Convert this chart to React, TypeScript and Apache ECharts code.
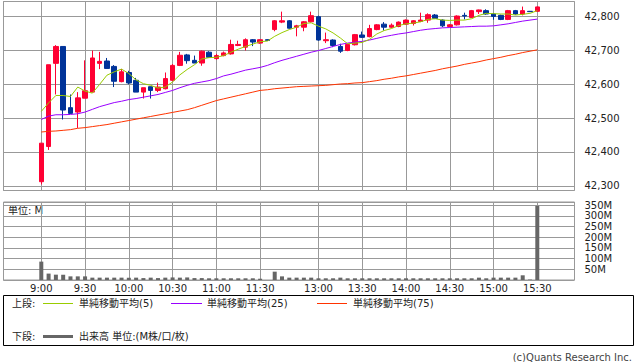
import { useEffect, useRef } from "react";
import * as echarts from "echarts";

const CATEGORIES = [
  "9:00", "9:05", "9:10", "9:15", "9:20", "9:25", "9:30", "9:35", "9:40", "9:45",
  "9:50", "9:55", "10:00", "10:05", "10:10", "10:15", "10:20", "10:25", "10:30", "10:35",
  "10:40", "10:45", "10:50", "10:55", "11:00", "11:05", "11:10", "11:15", "11:20", "11:25",
  "11:30", "12:25", "12:30", "12:35", "12:40", "12:45", "12:50", "12:55", "13:00", "13:05",
  "13:10", "13:15", "13:20", "13:25", "13:30", "13:35", "13:40", "13:45", "13:50", "13:55",
  "14:00", "14:05", "14:10", "14:15", "14:20", "14:25", "14:30", "14:35", "14:40", "14:45",
  "14:50", "14:55", "15:00", "15:05", "15:10", "15:15", "15:20", "15:25", "15:30",
];

const TICK_LABELS = ["9:00", "9:30", "10:00", "10:30", "11:00", "11:30", "13:00", "13:30", "14:00", "14:30", "15:00", "15:30"];

const OPEN = [
  42312, 42416, 42662, 42712, 42531, 42518, 42559, 42577, 42662, 42669,
  42653, 42608, 42635, 42612, 42577, 42593, 42582, 42587, 42612, 42656,
  42687, 42671, 42663, 42695, 42676, 42685, 42690, 42715, 42710, 42732,
  42722, 42732, 42762, 42784, 42788, 42769, 42769, 42785, 42800, 42729,
  42731, 42712, 42700, 42717, 42746, 42741, 42762, 42778, 42769, 42771,
  42778, 42780, 42786, 42790, 42805, 42790, 42771, 42776, 42804, 42798,
  42815, 42818, 42808, 42804, 42792, 42818, 42808, 42816, 42816,
];
const CLOSE = [
  42426, 42658, 42712, 42524, 42514, 42560, 42581, 42678, 42668, 42647,
  42609, 42637, 42604, 42577, 42590, 42582, 42592, 42617, 42656, 42686,
  42670, 42663, 42698, 42680, 42685, 42693, 42718, 42718, 42732, 42725,
  42732, 42730, 42788, 42788, 42766, 42773, 42785, 42803, 42731, 42732,
  42715, 42698, 42718, 42747, 42739, 42765, 42776, 42769, 42775, 42784,
  42790, 42788, 42790, 42806, 42795, 42773, 42776, 42802, 42802, 42818,
  42820, 42808, 42801, 42792, 42818, 42808, 42818, 42815, 42829,
];
const LOW = [
  42304, 42406, 42570, 42496, 42514, 42471, 42559, 42577, 42645, 42647,
  42592, 42606, 42600, 42577, 42558, 42558, 42577, 42585, 42609, 42654,
  42661, 42663, 42655, 42678, 42673, 42683, 42688, 42713, 42700, 42713,
  42720, 42729, 42757, 42781, 42765, 42742, 42757, 42783, 42729, 42722,
  42710, 42693, 42698, 42715, 42737, 42739, 42760, 42759, 42767, 42769,
  42776, 42774, 42784, 42782, 42793, 42769, 42769, 42774, 42792, 42796,
  42808, 42806, 42791, 42790, 42790, 42806, 42804, 42814, 42815,
];
const HIGH = [
  42426, 42658, 42716, 42712, 42570, 42577, 42671, 42700, 42696, 42678,
  42657, 42645, 42640, 42619, 42590, 42593, 42605, 42635, 42660, 42696,
  42690, 42685, 42700, 42698, 42690, 42697, 42732, 42729, 42736, 42734,
  42733, 42733, 42790, 42815, 42790, 42776, 42787, 42815, 42803, 42753,
  42733, 42720, 42720, 42749, 42756, 42776, 42778, 42784, 42780, 42786,
  42792, 42790, 42812, 42810, 42808, 42792, 42778, 42804, 42812, 42820,
  42821, 42822, 42810, 42806, 42820, 42820, 42830, 42817, 42830,
];

const MA5 = [
  42520, 42545, 42567, 42567, 42564, 42592, 42580, 42574, 42600, 42627,
  42637, 42645, 42632, 42613, 42602, 42597, 42589, 42592, 42607, 42628,
  42644, 42658, 42675, 42679, 42680, 42685, 42695, 42704, 42712, 42719,
  42726, 42728, 42742, 42753, 42762, 42769, 42780, 42782, 42772, 42764,
  42752, 42737, 42720, 42722, 42724, 42733, 42749, 42759, 42765, 42774,
  42779, 42781, 42785, 42792, 42794, 42790, 42789, 42790, 42790, 42794,
  42804, 42810, 42809, 42808, 42808, 42805, 42807, 42810, 42818,
];
const MA25 = [
  42496, 42506, 42510, 42510, 42511, 42513, 42518, 42526, 42534, 42540,
  42546, 42550, 42555, 42558, 42562, 42566, 42570, 42576, 42582, 42590,
  42597, 42603, 42607, 42611, 42617, 42625, 42630, 42636, 42642, 42646,
  42650, 42656, 42664, 42671, 42677, 42683, 42689, 42695, 42700, 42706,
  42712, 42718, 42722, 42725, 42727, 42731, 42736, 42741, 42745, 42749,
  42752, 42756, 42760, 42763, 42765, 42767, 42768, 42769, 42770, 42771,
  42772, 42772, 42773, 42776, 42779, 42783, 42787, 42790, 42793,
];
const MA75 = [
  42459, 42461, 42462, 42464, 42466, 42470, 42472, 42475, 42478, 42481,
  42485, 42489, 42493, 42497, 42501, 42505, 42509, 42513, 42517, 42521,
  42525, 42531, 42538, 42545, 42552, 42557, 42562, 42567, 42572, 42577,
  42582, 42584, 42587, 42589, 42591, 42593, 42594, 42595, 42596, 42597,
  42599, 42601, 42602, 42604, 42605, 42608, 42611, 42615, 42618, 42622,
  42625, 42629, 42633, 42637, 42641, 42646, 42650, 42654, 42659, 42663,
  42667, 42672, 42676, 42680, 42685, 42689, 42694, 42698, 42702,
];

const VOLUME = [
  86, 30, 25, 25, 17, 17, 17, 11, 11, 11,
  11, 11, 11, 11, 9, 11, 9, 11, 12, 11,
  12, 9, 9, 8, 8, 8, 8, 8, 8, 8,
  6, 0, 39, 17, 11, 11, 11, 11, 8, 8,
  8, 11, 8, 8, 8, 8, 8, 8, 8, 8,
  8, 8, 8, 8, 8, 8, 8, 8, 8, 8,
  11, 8, 11, 11, 11, 11, 22, 2, 347,
];

const FONT = '"DejaVu Sans", "Noto Sans CJK JP", sans-serif';
const GRID_COLOR = "#999999";
const UP = "#ff0033";
const DOWN = "#003399";
const C_MA5 = "#99cc00";
const C_MA25 = "#9900ff";
const C_MA75 = "#ff3300";

const isTick = (_i: number, v: string) => TICK_LABELS.includes(v);

export default function App() {
  const ref = useRef<HTMLDivElement>(null);

  useEffect(() => {
    const chart = echarts.init(ref.current!, null, { renderer: "svg" });

    const priceMin = 42286;
    const priceMax = 42845;

    const txt = (text: string, x: number, y: number, extra: any = {}) => ({
      type: "text",
      x,
      y,
      style: {
        text,
        fill: "#222",
        fontSize: 10,
        fontFamily: FONT,
        verticalAlign: "middle",
        align: "left",
        ...extra,
      },
    });
    const seg = (x1: number, x2: number, y: number, stroke: string, w = 1) => ({
      type: "line",
      shape: { x1, y1: y, x2, y2: y },
      style: { stroke, lineWidth: w },
    });

    const option: any = {
      animation: false,
      backgroundColor: "#ffffff",
      grid: [
        { left: 3.5, top: 1.5, width: 571, height: 189, show: true, borderColor: GRID_COLOR, borderWidth: 1, backgroundColor: "transparent" },
        { left: 41.3, top: 1.5, width: 496, height: 189 },
        { left: 3.5, top: 202, width: 571, height: 78, show: true, borderColor: GRID_COLOR, borderWidth: 1, backgroundColor: "transparent" },
        { left: 41.3, top: 202, width: 496, height: 78 },
      ],
      xAxis: [
        { type: "value", gridIndex: 0, min: 0, max: 1, show: false },
        {
          type: "category",
          gridIndex: 1,
          data: CATEGORIES,
          boundaryGap: false,
          axisLine: { show: false },
          axisTick: { show: false },
          axisLabel: { show: false },
          splitLine: { show: true, interval: isTick, lineStyle: { color: GRID_COLOR, width: 1 } },
        },
        { type: "value", gridIndex: 2, min: 0, max: 1, show: false },
        {
          type: "category",
          gridIndex: 3,
          data: CATEGORIES,
          boundaryGap: false,
          axisLine: { show: false },
          axisTick: { show: false },
          axisLabel: {
            show: true,
            interval: isTick,
            fontSize: 10,
            fontFamily: FONT,
            color: "#222",
            margin: 3,
          },
          splitLine: { show: true, interval: isTick, lineStyle: { color: GRID_COLOR, width: 1 } },
        },
      ],
      yAxis: [
        {
          type: "value",
          gridIndex: 0,
          position: "right",
          min: priceMin,
          max: priceMax,
          splitNumber: 5,
          axisLine: { show: false },
          axisTick: { show: true, length: 6, lineStyle: { color: GRID_COLOR } },
          splitLine: { show: true, lineStyle: { color: GRID_COLOR, width: 1 } },
          axisLabel: {
            fontSize: 10,
            fontFamily: FONT,
            color: "#222",
            margin: 10,
            showMinLabel: true,
            showMaxLabel: true,
            formatter: (v: number) => (v % 100 === 0 ? v.toLocaleString("en-US") : ""),
          },
        },
        { type: "value", gridIndex: 1, min: priceMin, max: priceMax, show: false, splitLine: { show: false } },
        {
          type: "value",
          gridIndex: 2,
          position: "right",
          min: 0,
          max: 365,
          splitNumber: 7,
          axisLine: { show: false },
          axisTick: { show: true, length: 6, lineStyle: { color: GRID_COLOR } },
          splitLine: { show: true, lineStyle: { color: GRID_COLOR, width: 1 } },
          axisLabel: {
            fontSize: 10,
            fontFamily: FONT,
            color: "#222",
            margin: 10,
            formatter: (v: number) => (v > 0 && v % 50 === 0 ? `${v}M` : ""),
          },
        },
        { type: "value", gridIndex: 3, min: 0, max: 365, show: false, splitLine: { show: false } },
      ],
      series: [
        {
          type: "candlestick",
          xAxisIndex: 1,
          yAxisIndex: 1,
          clip: false,
          barWidth: 5,
          data: OPEN.map((o, i) => [o, CLOSE[i], LOW[i], HIGH[i]]),
          itemStyle: { color: UP, color0: DOWN, borderColor: UP, borderColor0: DOWN, borderWidth: 1 },
        },
        {
          type: "line",
          xAxisIndex: 1,
          yAxisIndex: 1,
          data: MA75,
          symbol: "none",
          lineStyle: { color: C_MA75, width: 1 },
        },
        {
          type: "line",
          xAxisIndex: 1,
          yAxisIndex: 1,
          data: MA25,
          symbol: "none",
          lineStyle: { color: C_MA25, width: 1 },
        },
        {
          type: "line",
          xAxisIndex: 1,
          yAxisIndex: 1,
          data: MA5,
          symbol: "none",
          lineStyle: { color: C_MA5, width: 1 },
        },
        {
          type: "bar",
          xAxisIndex: 3,
          yAxisIndex: 3,
          clip: false,
          barWidth: 4,
          data: VOLUME,
          itemStyle: { color: "#666666" },
        },
      ],
      graphic: [
        txt("単位: M", 8, 210),
        {
          type: "rect",
          shape: { x: 3.5, y: 295.5, width: 630, height: 50 },
          style: { fill: "#ffffff", stroke: "#000000", lineWidth: 1 },
        },
        txt("上段:", 12, 303),
        seg(43, 73, 303.5, C_MA5),
        txt("単純移動平均(5)", 79, 303),
        seg(171, 202, 303.5, C_MA25),
        txt("単純移動平均(25)", 207, 303),
        seg(317, 347, 303.5, C_MA75),
        txt("単純移動平均(75)", 353, 303),
        txt("下段:", 12, 336.5),
        seg(43, 73, 336.5, "#666666", 3),
        txt("出来高 単位:(M株/口/枚)", 79, 336.5),
        txt("(c)Quants Research Inc.", 632, 357, { align: "right", fill: "#444" }),
      ],
    };

    chart.setOption(option);
    return () => chart.dispose();
  }, []);

  return <div ref={ref} style={{ position: "fixed", left: 0, top: 0, width: 638, height: 362 }} />;
}
